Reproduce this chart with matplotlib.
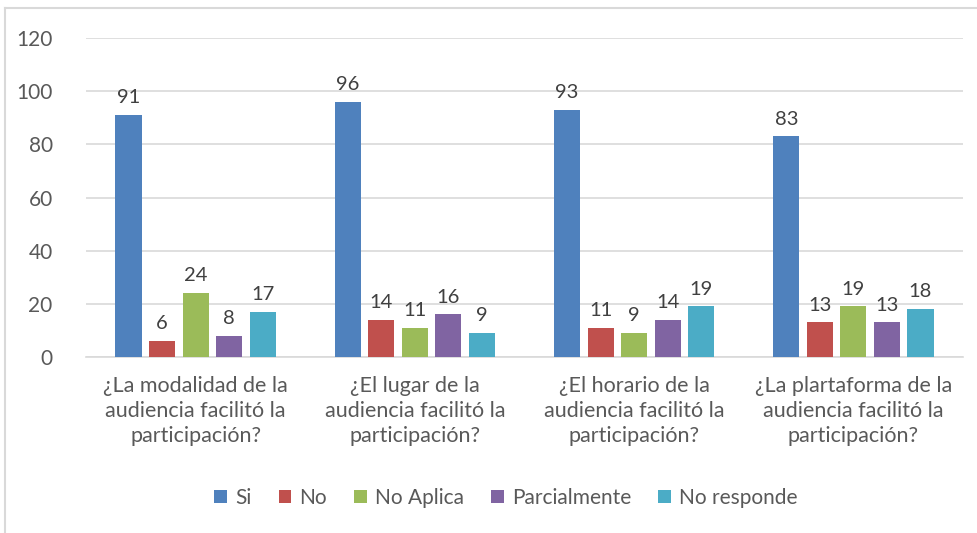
import matplotlib
matplotlib.use("Agg")
import matplotlib.pyplot as plt
import numpy as np
from matplotlib.lines import Line2D

categories = ["¿La modalidad de la\naudiencia facilitó la\nparticipación?",
              "¿El lugar de la\naudiencia facilitó la\nparticipación?",
              "¿El horario de la\naudiencia facilitó la\nparticipación?",
              "¿La plartaforma de la\naudiencia facilitó la\nparticipación?"]
series_names = ["Si", "No", "No Aplica", "Parcialmente", "No responde"]
si = [91, 96, 93, 83]
no = [6, 14, 11, 13]
no_aplica = [24, 11, 9, 19]
parcialmente = [8, 16, 14, 13]
no_responde = [17, 9, 19, 18]
values = [si, no, no_aplica, parcialmente, no_responde]
colors = ["#4f81bd", "#c0504d", "#9bbb59", "#8064a2", "#4bacc6"]
yticks = [0, 20, 40, 60, 80, 100, 120]

plt.rcParams['font.family'] = ['Lato', 'DejaVu Sans']
txt = "#595959"

W, H = 977, 533
fig = plt.figure(figsize=(W/100, H/100), dpi=100)
ax = fig.add_axes([86/W, 1-357/H, (963-86)/W, (357-38)/H])

x = np.arange(len(categories))
step = 0.153
width = 0.119
for i, (name, vals, c) in enumerate(zip(series_names, values, colors)):
    pos = x + (i - 2) * step
    ax.bar(pos, vals, width, color=c, label=name, zorder=3)
    for p, v in zip(pos, vals):
        ax.text(p, v + 3.3, str(v), ha='center', va='bottom', fontsize=14.5, color="#404040")

ax.set_xlim(-0.5, 3.5)
ax.set_ylim(0, 120)
ax.set_yticks(yticks)
ax.set_yticklabels([str(t) for t in yticks], fontsize=15, color=txt)
ax.yaxis.grid(True, color="#d9d9d9", linewidth=1.2, zorder=0)
ax.set_xticks(x)
ax.set_xticklabels(categories, fontsize=15.5, color=txt, linespacing=1.3)
ax.tick_params(axis='both', length=0)
ax.tick_params(axis='y', pad=24)
ax.tick_params(axis='x', pad=14)
for s in ['top', 'right', 'left']:
    ax.spines[s].set_visible(False)
ax.spines['bottom'].set_color("#d9d9d9")
ax.spines['bottom'].set_linewidth(1.2)

leg = fig.legend(loc='center', bbox_to_anchor=(506/W, 1-498/H), ncol=5, frameon=False,
                 fontsize=15, handlelength=0.6, handleheight=0.6, handletextpad=0.4,
                 columnspacing=1.3)
for t in leg.get_texts():
    t.set_color(txt)

# chart border (partially visible)
fig.add_artist(Line2D([5/W, 5/W], [0, 1-8/H], transform=fig.transFigure, color="#d9d9d9", lw=1.5))
fig.add_artist(Line2D([5/W, 1], [1-8/H, 1-8/H], transform=fig.transFigure, color="#d9d9d9", lw=1.5))

fig.savefig("out.png", dpi=100)
